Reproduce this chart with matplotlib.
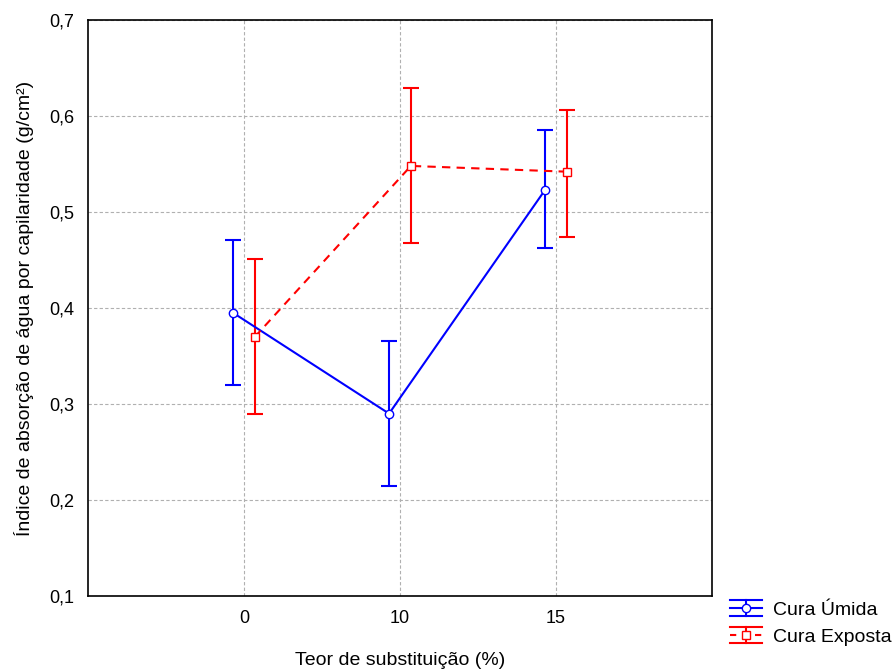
import matplotlib
matplotlib.use("Agg")
import matplotlib.pyplot as plt
import numpy as np
from matplotlib.ticker import FuncFormatter
from matplotlib.legend_handler import HandlerBase
from matplotlib.lines import Line2D

plt.rcParams['font.family'] = ['Liberation Sans', 'DejaVu Sans']

categories = ["0", "10", "15"]
umida_mean = [0.395, 0.290, 0.523]
umida_low = [0.320, 0.215, 0.462]
umida_high = [0.471, 0.366, 0.585]
exposta_mean = [0.370, 0.548, 0.542]
exposta_low = [0.290, 0.468, 0.474]
exposta_high = [0.451, 0.629, 0.606]

BLUE = '#0000ff'
RED = '#ff0000'

fig = plt.figure(figsize=(8.96, 6.69), dpi=100)
ax = fig.add_axes([0.0982, 0.1091, 0.6964, 0.8610])

x = np.arange(len(categories))
off = 0.07
um = np.array(umida_mean); ex = np.array(exposta_mean)
yerr_u = [um - np.array(umida_low), np.array(umida_high) - um]
yerr_e = [ex - np.array(exposta_low), np.array(exposta_high) - ex]

ax.errorbar(x - off, um, yerr=yerr_u, color=BLUE, lw=1.5, capsize=6, capthick=1.5,
            marker='o', markersize=6, markerfacecolor='white', markeredgecolor=BLUE,
            label='Cura Úmida', zorder=3)
ax.errorbar(x + off, ex, yerr=yerr_e, color=RED, lw=1.5, ls=(0, (4, 3)), capsize=6, capthick=1.5,
            marker='s', markersize=6, markerfacecolor='white', markeredgecolor=RED,
            label='Cura Exposta', zorder=3)

ax.set_xlim(-1, 3)
ax.set_ylim(0.1, 0.7)
ax.set_xticks(x)
ax.set_xticklabels(categories)
ax.set_yticks(np.arange(0.1, 0.71, 0.1))
ax.yaxis.set_major_formatter(FuncFormatter(lambda v, p: f"{v:.1f}".replace('.', ',')))
ax.tick_params(labelsize=13, length=0, pad=10)
ax.grid(True, color='#b0b0b0', ls=(0, (3, 2)), lw=0.8)
ax.set_axisbelow(True)
for s in ax.spines.values():
    s.set_linewidth(1.2)
ax.set_xlabel("Teor de substituição (%)", fontsize=14, labelpad=18)
ax.set_ylabel("Índice de absorção de água por capilaridade (g/cm²)", fontsize=14, labelpad=11)


class ErrHandler(HandlerBase):
    def __init__(self, color, marker, ls):
        super().__init__()
        self.color, self.marker, self.ls = color, marker, ls

    def create_artists(self, legend, orig_handle, xdescent, ydescent, width, height, fontsize, trans):
        cy = height / 2 - ydescent
        cx = width / 2 - xdescent
        h = 5.8
        arts = [
            Line2D([-xdescent, width - xdescent], [cy, cy], color=self.color, lw=1.5, ls=self.ls),
            Line2D([-xdescent, width - xdescent], [cy + h, cy + h], color=self.color, lw=1.5),
            Line2D([-xdescent, width - xdescent], [cy - h, cy - h], color=self.color, lw=1.5),
            Line2D([cx, cx], [cy - h, cy + h], color=self.color, lw=1.5),
            Line2D([cx], [cy], marker=self.marker, markersize=6, markerfacecolor='white',
                   markeredgecolor=self.color, color=self.color, ls='none'),
        ]
        for a in arts:
            a.set_transform(trans)
        return arts


hu = Line2D([], [], color=BLUE)
he = Line2D([], [], color=RED)
fig.legend([hu, he], ['Cura Úmida', 'Cura Exposta'], loc='upper left',
           bbox_to_anchor=(0.815, 0.101), frameon=False, fontsize=14,
           handlelength=1.65, handletextpad=0.57, borderaxespad=0, borderpad=0, labelspacing=0.48,
           handler_map={hu: ErrHandler(BLUE, 'o', '-'), he: ErrHandler(RED, 's', (0, (3, 3)))})

fig.savefig("out.png", dpi=100)
